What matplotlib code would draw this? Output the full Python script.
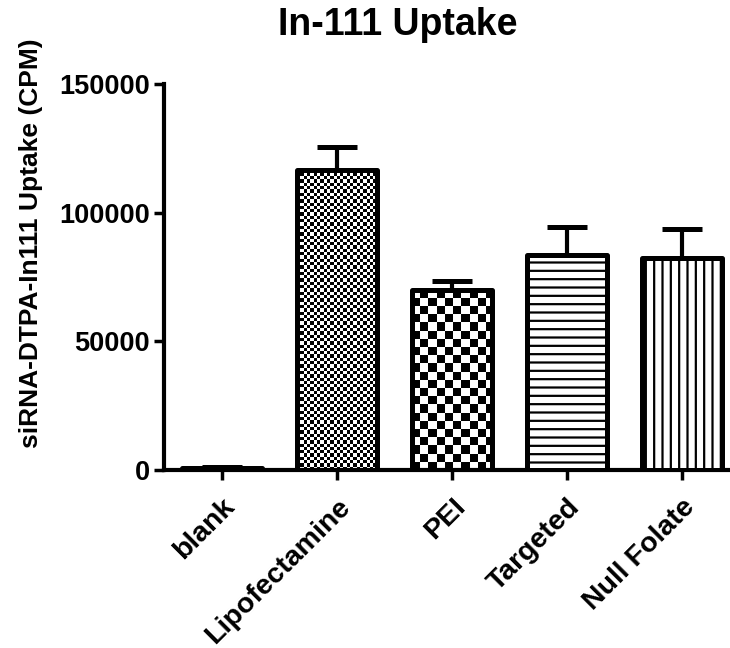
import matplotlib
matplotlib.use("Agg")
import matplotlib.pyplot as plt
import numpy as np

plt.rcParams['font.family'] = ['Liberation Sans', 'DejaVu Sans']
plt.rcParams['font.weight'] = 'bold'
plt.rcParams['hatch.linewidth'] = 1.6

categories = ["blank", "Lipofectamine", "PEI", "Targeted", "Null Folate"]
means = [800, 116500, 69900, 83600, 82400]
sem = [500, 9000, 3500, 10800, 11200]

# fill style per bar: checker cell size in px, or a hatch
checker_px = [None, 3.3, 8.2, None, None]
hatches = ['', '', '', '--', '||']


def main():
    fig = plt.figure(figsize=(7.3, 6.48), dpi=100)
    ax = fig.add_axes([0.2247, 0.2747, 0.7726, 0.5957])

    x = np.arange(len(categories))
    width = 0.7
    xlim = (-0.504, 4.4)
    ylim = (0, 150000)
    ax.set_xlim(*xlim)
    ax.set_ylim(*ylim)

    faces = ['none' if c else 'white' for c in checker_px]
    bars = ax.bar(x, means, width=width, color=faces, edgecolor='black',
                  linewidth=3.6, hatch=hatches, zorder=3)
    for b in bars:
        b.set_joinstyle('round')

    ax.errorbar(x, means, yerr=[np.zeros(len(sem)), sem], fmt='none',
                ecolor='black', elinewidth=3, capsize=14.5, capthick=3.6,
                zorder=2)

    # checkerboard fills, clipped to the bars
    ax_w = 0.7726 * 730
    ax_h = 0.5957 * 648
    for i, cell in enumerate(checker_px):
        if not cell:
            continue
        dx = cell / ax_w * (xlim[1] - xlim[0])
        dy = cell / ax_h * (ylim[1] - ylim[0])
        x0 = x[i] - width / 2
        nx = int(np.ceil(width / dx))
        ny = int(np.ceil(means[i] / dy))
        board = (np.add.outer(np.arange(ny), np.arange(nx)) % 2).astype(float)
        im = ax.imshow(board, cmap='gray', interpolation='nearest',
                       extent=(x0, x0 + nx * dx, 0, ny * dy), origin='lower',
                       aspect='auto', zorder=1)
        im.set_clip_path(bars[i])

    ax.set_xlim(*xlim)
    ax.set_ylim(*ylim)

    for s in ['top', 'right']:
        ax.spines[s].set_visible(False)
    for s in ['left', 'bottom']:
        ax.spines[s].set_linewidth(3)

    ax.set_yticks([0, 50000, 100000, 150000])
    ax.set_yticklabels(['0', '50000', '100000', '150000'])
    ax.set_xticks(x)
    ax.set_xticklabels(categories, rotation=45, ha='right',
                       rotation_mode='anchor')
    ax.tick_params(axis='both', width=2.5, length=7, pad=3)
    ax.tick_params(axis='y', labelsize=19.5)
    ax.tick_params(axis='x', labelsize=20.5, pad=10)

    fig.text(0.043, 0.625, 'siRNA-DTPA-In111 Uptake (CPM)', fontsize=19,
             fontweight='bold', rotation=90, ha='center', va='center')
    fig.text(0.545, 0.961, 'In-111 Uptake', fontsize=27, fontweight='bold',
             ha='center', va='center')

    fig.savefig('out.png', dpi=100)
    return 0


if __name__ == "__main__":
    main()
